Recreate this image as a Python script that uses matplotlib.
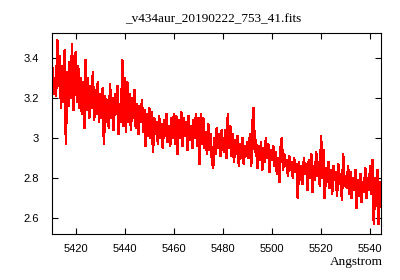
import numpy as np
import matplotlib
matplotlib.use("Agg")
import matplotlib.pyplot as plt

#%% spectrum, wavelength grid as in the fits header
crval1 = 5410.5   # Angstrom of first pixel
cdelt1 = 0.5      # Angstrom per pixel

flux = [
    # 5410.5 - 5420.0
    3.35, 3.22, 3.30, 3.21, 3.49, 3.26, 3.41, 3.15, 3.36, 3.18,
    3.44, 2.97, 3.33, 3.16, 3.38, 3.20, 3.47, 3.14, 3.33, 3.43,
    # 5420.5 - 5430.0
    3.18, 3.36, 3.15, 3.30, 3.12, 3.28, 3.05, 3.39, 3.14, 3.30,
    3.10, 3.26, 3.15, 3.33, 3.09, 3.24, 3.12, 3.28, 3.08, 3.22,
    # 5430.5 - 5440.0
    3.10, 3.25, 2.97, 3.21, 3.08, 3.19, 3.05, 3.27, 3.10, 3.20,
    3.04, 3.22, 3.12, 3.26, 3.02, 3.17, 3.08, 3.39, 3.06, 3.30,
    # 5440.5 - 5450.0
    3.03, 3.28, 3.08, 3.22, 3.04, 3.20, 3.10, 3.24, 3.05, 3.17,
    3.02, 3.16, 3.08, 3.19, 3.03, 3.14, 2.96, 3.12, 3.01, 3.15,
    # 5450.5 - 5460.0
    3.00, 3.13, 2.93, 3.10, 3.02, 3.08, 2.97, 3.11, 3.00, 3.07,
    2.95, 3.09, 3.01, 3.12, 2.98, 3.06, 2.96, 3.10, 3.00, 3.12,
    # 5460.5 - 5470.0
    2.97, 3.11, 2.92, 3.09, 3.00, 3.13, 2.96, 3.10, 3.01, 3.08,
    2.94, 3.11, 2.99, 3.06, 2.95, 3.09, 3.00, 3.12, 2.96, 3.10,
    # 5470.5 - 5480.0
    2.87, 3.12, 2.97, 3.10, 2.95, 3.03, 2.92, 3.07, 2.94, 3.02,
    2.89, 2.85, 3.00, 2.92, 3.05, 2.95, 3.02, 2.91, 3.04, 2.96,
    # 5480.5 - 5490.0
    2.93, 3.04, 2.90, 3.12, 2.95, 3.06, 2.91, 3.02, 2.88, 2.99,
    2.92, 3.01, 2.86, 2.97, 2.90, 3.00, 2.87, 2.96, 2.91, 2.98,
    # 5490.5 - 5500.0
    2.90, 3.02, 2.86, 3.07, 3.15, 2.93, 2.99, 2.85, 2.96, 2.89,
    2.98, 2.84, 2.95, 2.88, 3.00, 2.90, 2.97, 2.83, 2.94, 2.89,
    # 5500.5 - 5510.0
    2.96, 2.86, 2.93, 2.82, 2.90, 2.78, 2.95, 3.00, 2.84, 2.92,
    2.86, 2.89, 2.81, 2.91, 2.84, 2.88, 2.80, 2.90, 2.83, 2.87,
    # 5510.5 - 5520.0
    2.70, 2.88, 2.79, 2.86, 2.77, 2.90, 2.82, 2.87, 2.74, 2.89,
    2.80, 2.92, 2.73, 2.86, 2.79, 2.93, 2.81, 2.88, 2.76, 3.01,
    # 5520.5 - 5530.0
    2.80, 2.94, 2.70, 2.85, 2.78, 2.88, 2.75, 2.84, 2.72, 2.86,
    2.79, 2.83, 2.71, 2.87, 2.77, 2.82, 2.69, 2.92, 2.76, 2.81,
    # 5530.5 - 5540.0
    2.75, 2.86, 2.72, 2.83, 2.70, 2.80, 2.74, 2.84, 2.65, 2.79,
    2.71, 2.82, 2.68, 2.78, 2.73, 2.85, 2.70, 2.80, 2.74, 2.86,
    # 5540.5 - 5544.5
    2.72, 2.89, 2.57, 2.80, 2.66, 2.84, 2.57, 2.78, 2.71,
]
flux = np.array(flux)
wave = crval1 + cdelt1*np.arange(len(flux))

xticks = [5420, 5440, 5460, 5480, 5500, 5520, 5540]
yticks = [2.6, 2.8, 3.0, 3.2, 3.4]
ylabels = ['2.6', '2.8', '3', '3.2', '3.4']

#%% plot
fig = plt.figure(figsize=(4, 2.8), dpi=100)
ax = fig.add_axes([0.131, 0.164, 0.822, 0.717])
ax.plot(wave, flux, color='red', lw=1.1, antialiased=False)

ax.set_xlim(5410.5, 5544.5)
ax.set_ylim(2.52, 3.525)
ax.set_xticks(xticks)
ax.set_yticks(yticks)
ax.set_yticklabels(ylabels)
ax.tick_params(direction='in', length=4, width=0.8, top=True, right=True,
               labelsize=8, colors='black')
ax.tick_params(axis='x', pad=7)
ax.tick_params(axis='y', pad=9.5)
for lab in ax.get_xticklabels() + ax.get_yticklabels():
    lab.set_family('Liberation Sans')
for s in ax.spines.values():
    s.set_linewidth(0.8)

fig.text(0.534, 0.93, '_v434aur_20190222_753_41.fits', ha='center', va='center',
         fontsize=9.5, family='Liberation Serif')
fig.text(0.9575, 0.064, 'Angstrom', ha='right', va='center',
         fontsize=9.5, family='Liberation Serif')

fig.savefig('out.png', dpi=100)
